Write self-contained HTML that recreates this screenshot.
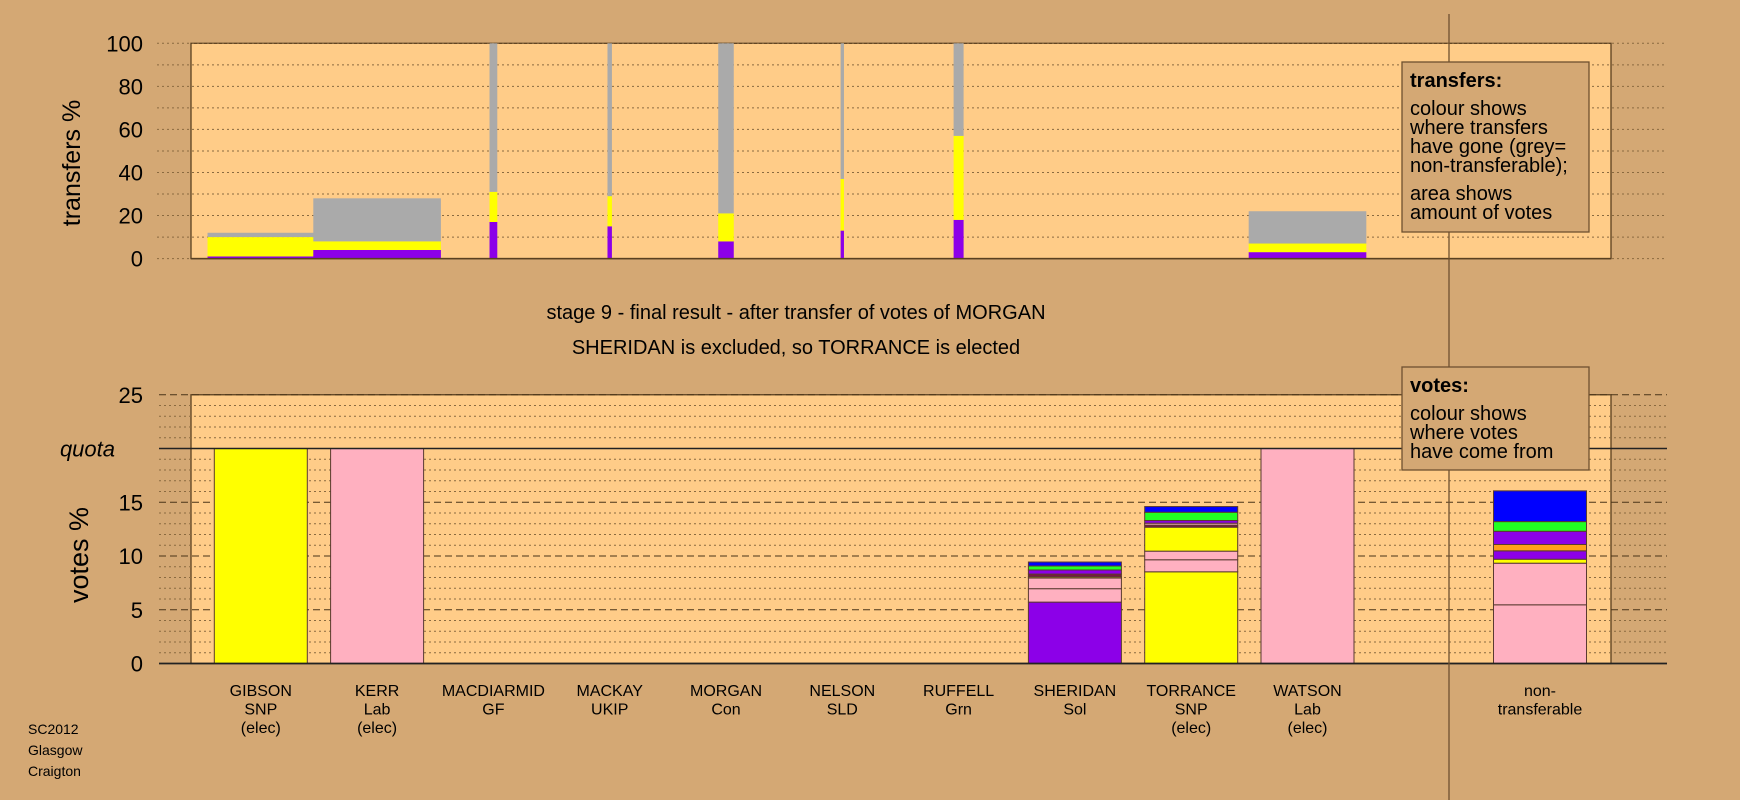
<!DOCTYPE html>
<html><head><meta charset="utf-8"><style>
html,body{margin:0;padding:0;background:#d4a874;}
svg{display:block;font-family:"Liberation Sans",sans-serif;}
</style></head><body>
<svg id="chart" width="1740" height="800" viewBox="0 0 1740 800" xmlns="http://www.w3.org/2000/svg">
<rect x="0" y="0" width="1740" height="800" fill="#d4a874"/>
<g id="topPanel"></g>
<g id="botPanel"></g>
<line x1="1449" y1="14" x2="1449" y2="800" stroke="#6e5030" stroke-width="1.3"/>
<text x="80" y="163" font-size="25" text-anchor="middle" transform="rotate(-90 80 163)">transfers %</text>
<text x="88" y="555" font-size="27" text-anchor="middle" transform="rotate(-90 88 555)">votes %</text>
<text x="796" y="319" font-size="20" text-anchor="middle">stage 9 - final result - after transfer of votes of MORGAN</text>
<text x="796" y="354" font-size="20" text-anchor="middle">SHERIDAN is excluded, so TORRANCE is elected</text>
<g>
<rect x="1402" y="62" width="187" height="170" fill="#d4a874" stroke="#6e5030" stroke-width="1.3"/>
<text x="1410" y="87" font-size="20" font-weight="bold">transfers:</text>
<text x="1410" y="115" font-size="20">colour shows</text>
<text x="1410" y="134" font-size="20">where transfers</text>
<text x="1410" y="153" font-size="20">have gone (grey=</text>
<text x="1410" y="172" font-size="20">non-transferable);</text>
<text x="1410" y="200" font-size="20">area shows</text>
<text x="1410" y="219" font-size="20">amount of votes</text>
</g>
<g>
<rect x="1402" y="367" width="187" height="103" fill="#d4a874" stroke="#6e5030" stroke-width="1.3"/>
<text x="1410" y="392" font-size="20" font-weight="bold">votes:</text>
<text x="1410" y="420" font-size="20">colour shows</text>
<text x="1410" y="439" font-size="20">where votes</text>
<text x="1410" y="458" font-size="20">have come from</text>
</g>
<g font-size="14">
<text x="28" y="734">SC2012</text>
<text x="28" y="755">Glasgow</text>
<text x="28" y="776">Craigton</text>
</g>
</svg>
<script>
const candidates=["GIBSON","KERR","MACDIARMID","MACKAY","MORGAN","NELSON","RUFFELL","SHERIDAN","TORRANCE","WATSON"];
const parties=["SNP","Lab","GF","UKIP","Con","SLD","Grn","Sol","SNP","Lab"];
const status=["(elec)","(elec)","","","","","","","(elec)","(elec)"];
const transAmount=[0.96,1.15,0.07,0.04,0.14,0.03,0.09,0,0,1.06];
const transPurple=[1,4,17,15,8,13,18,0,0,3];
const transYellow=[9,4,14,14,13,24,39,0,0,4];
const transGrey=[2,20,69,71,79,63,43,0,0,15];
const topTicks=[0,20,40,60,80,100];
const votesTicks=[0,5,10,15,25];
const quota=20;
const stackGIBSON=[[20,"#ffff00"]];
const stackKERR=[[20,"#ffb0c0"]];
const stackWATSON=[[20,"#ffb0c0"]];
const stackSHERIDAN=[[5.71,"#8c00e8"],[1.25,"#ffb0c0"],[0.99,"#ffb0c0"],[0.12,"#ffff00"],[0.25,"#7a1840"],[0.38,"#8c00e8"],[0.37,"#22ff22"],[0.37,"#0000ff"]];
const stackTORRANCE=[[8.53,"#ffff00"],[1.12,"#ffb0c0"],[0.8,"#ffb0c0"],[2.23,"#ffff00"],[0.19,"#7a1840"],[0.18,"#ffb0c0"],[0.25,"#8c00e8"],[0.77,"#22ff22"],[0.53,"#0000ff"]];
const stackNONTRANS=[[5.46,"#ffb0c0"],[3.87,"#ffb0c0"],[0.37,"#ffff00"],[0.78,"#8c00e8"],[0.59,"#ff9f1a"],[1.23,"#8c00e8"],[0.9,"#22ff22"],[2.86,"#0000ff"]];

const NS="http://www.w3.org/2000/svg";
function mk(tag,attrs,parent){const e=document.createElementNS(NS,tag);for(const k in attrs)e.setAttribute(k,attrs[k]);parent.appendChild(e);return e;}
const colX=i=>260.8+i*116.3;
const nonX=1540;
const yTop=v=>258.6-v*2.153;
const yBot=v=>663.5-v*10.75;
const topG=document.getElementById('topPanel'),botG=document.getElementById('botPanel');

let r=mk('rect',{x:191,y:43.3,width:1420,height:215.3,fill:"#ffcc88",stroke:"#5a4020","stroke-width":1.3},topG);


for(let v=0;v<=100;v+=10){
  const l=mk('line',{x1:157,x2:1667,y1:yTop(v),y2:yTop(v),stroke:"#8a6a40","stroke-width":1,"stroke-dasharray":"2,3"},topG);
  
  
}
topTicks.forEach(v=>{
  const t=mk('text',{x:143,y:yTop(v)+8,"font-size":22,"text-anchor":"end"},topG);t.textContent=v;
  
  
});
candidates.forEach((c,i)=>{
  const w=transAmount[i]*110.97;if(w<=0)return;
  const x=colX(i)-w/2;
  const segs=[[0,transPurple[i],"#8c00e8"],[transPurple[i],transPurple[i]+transYellow[i],"#ffff00"],[transPurple[i]+transYellow[i],transPurple[i]+transYellow[i]+transGrey[i],"#aaaaaa"]];
  segs.forEach(s=>{
    const b=mk('rect',{x:x,y:yTop(s[1]),width:w,height:yTop(s[0])-yTop(s[1]),fill:s[2]},topG);
    
    
  });
});
mk('line',{x1:191,x2:1611,y1:258.6,y2:258.6,stroke:"#5a4020","stroke-width":1.5},topG);

r=mk('rect',{x:191,y:yBot(25),width:1420,height:yBot(0)-yBot(25),fill:"#ffcc88",stroke:"#5a4020","stroke-width":1.3},botG);


for(let v=1;v<=25;v++){
  if(v===quota)continue;
  const major=v%5===0;
  const l=mk('line',{x1:159,x2:1667,y1:yBot(v),y2:yBot(v),stroke:major?"#4a3418":"#8a6a40","stroke-width":1,"stroke-dasharray":major?"7,4":"2,3"},botG);
  
  
}
votesTicks.forEach(v=>{
  const t=mk('text',{x:143,y:yBot(v)+8,"font-size":22,"text-anchor":"end"},botG);t.textContent=v;
  
  
});
let q=mk('text',{x:115,y:yBot(quota)+8,"font-size":22,"font-style":"italic","text-anchor":"end"},botG);q.textContent="quota";


function drawStack(stack,cx,name){
  let acc=0;
  stack.forEach(s=>{
    const b=mk('rect',{x:cx-46.5,y:yBot(acc+s[0]),width:93,height:yBot(acc)-yBot(acc+s[0]),fill:s[1],stroke:"#5a3a30","stroke-width":1},botG);
    
    
    acc+=s[0];
  });
}
const stacks={GIBSON:stackGIBSON,KERR:stackKERR,SHERIDAN:stackSHERIDAN,TORRANCE:stackTORRANCE,WATSON:stackWATSON};
candidates.forEach((c,i)=>{if(stacks[c])drawStack(stacks[c],colX(i),c.toLowerCase());});
drawStack(stackNONTRANS,nonX,'non-transferable');
q=mk('line',{x1:159,x2:1667,y1:yBot(quota),y2:yBot(quota),stroke:"#222","stroke-width":1.5},botG);


mk('line',{x1:159,x2:1667,y1:yBot(0),y2:yBot(0),stroke:"#222","stroke-width":1.8},botG);
candidates.forEach((c,i)=>{
  const g=mk('g',{"font-size":16,"text-anchor":"middle"},botG);
  
  
  [c,parties[i],status[i]].forEach((s,k)=>{if(!s)return;const t=mk('text',{x:colX(i),y:696+k*18.5},g);t.textContent=s;});
});
const g=mk('g',{"font-size":16,"text-anchor":"middle"},botG);


["non-","transferable"].forEach((s,k)=>{const t=mk('text',{x:nonX,y:696+k*18.5},g);t.textContent=s;});
</script>
</body></html>
